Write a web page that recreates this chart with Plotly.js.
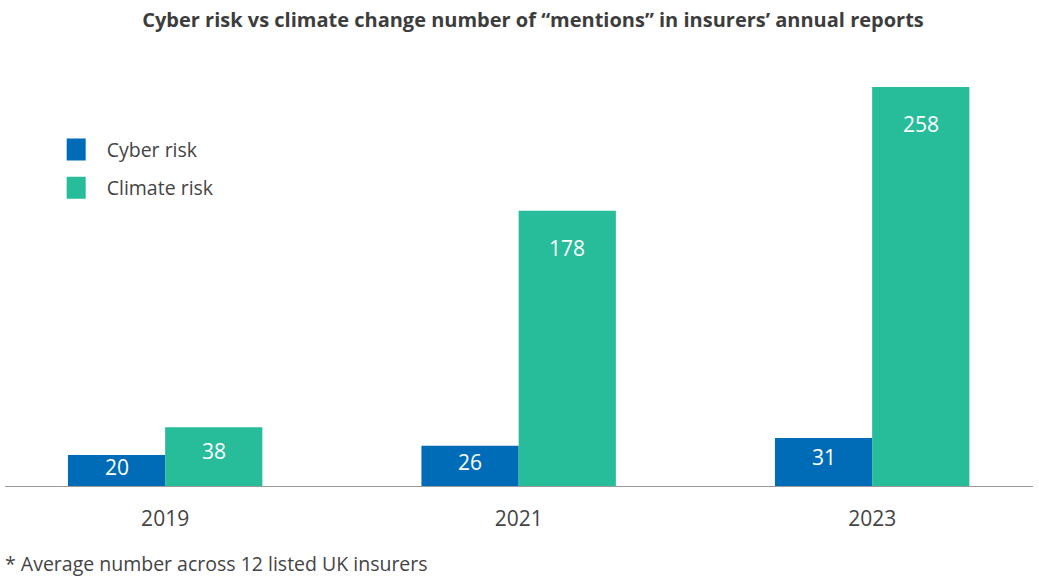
<!DOCTYPE html>
<html>
<head>
<meta charset="utf-8">
<script src="https://cdn.plot.ly/plotly-3.0.1.min.js"></script>
<style>
  html, body { margin: 0; padding: 0; background: #fff; }
  #chart { width: 1039px; height: 584px; }
</style>
</head>
<body>
<div id="chart"></div>
<script>
// Values
const years = ["2019", "2021", "2023"];
const cyberRisk = [20, 26, 31];
const climateRisk = [38, 178, 258];

const cyberColor = "#006cb7";
const climateColor = "#27bc9a";
const textColor = "#444444";
const font = "'Open Sans', sans-serif";

const bargap = 0.45;
// half a bar width, in category units, used to centre the value labels
const halfBar = (1 - bargap) / 4;

// Value labels sit near the top of each bar, a bit above the middle on short bars
function labelY(v) {
    return Math.max(v * 0.6, v - 24);
}

const annotations = [];
years.forEach((year, i) => {
    annotations.push({
        x: i - halfBar, y: labelY(cyberRisk[i]), xref: "x", yref: "y",
        text: String(cyberRisk[i]), showarrow: false, yanchor: "middle",
        font: { family: font, size: 21, color: "#ffffff" },
    });
    annotations.push({
        x: i + halfBar, y: labelY(climateRisk[i]), xref: "x", yref: "y",
        text: String(climateRisk[i]), showarrow: false, yanchor: "middle",
        font: { family: font, size: 21, color: "#ffffff" },
    });
});

// Footnote under the axis
annotations.push({
    x: -0.002, y: -0.181, xref: "paper", yref: "paper",
    xanchor: "left", yanchor: "middle", showarrow: false,
    text: "* Average number across 12 listed UK insurers",
    font: { family: font, size: 19.5, color: textColor },
});

const traces = [{
    type: "bar",
    name: "Cyber risk",
    legendgroup: "cyber",
    x: years,
    y: cyberRisk,
    marker: { color: cyberColor },
    hoverinfo: "none",
}, {
    type: "bar",
    name: "Climate risk",
    legendgroup: "climate",
    x: years,
    y: climateRisk,
    marker: { color: climateColor },
    hoverinfo: "none",
}];

const layout = {
    width: 1039,
    height: 584,
    paper_bgcolor: "#ffffff",
    plot_bgcolor: "#ffffff",
    font: { family: font, color: textColor },
    title: {
        text: "<b>Cyber risk vs climate change number of “mentions” in insurers’ annual reports</b>",
        x: 0.513, xanchor: "center",
        y: 0.966, yanchor: "middle",
        font: { family: font, size: 20, color: "#3d3d3d" },
    },
    margin: { l: 5, r: 6, t: 60, b: 98 },
    barmode: "group",
    bargap: bargap,
    bargroupgap: 0,
    showlegend: true,
    legend: {
        x: 0.06, xanchor: "left",
        y: 0.835, yanchor: "top",
        traceorder: "grouped",
        tracegroupgap: 10,
        font: { family: font, size: 19.5, color: textColor },
        bgcolor: "rgba(0,0,0,0)",
    },
    xaxis: {
        type: "category",
        range: [-0.453, 2.455],
        showline: true,
        linecolor: "#9a9a9a",
        linewidth: 1,
        ticks: "",
        ticklabelstandoff: 14,
        tickfont: { family: font, size: 21, color: textColor },
        showgrid: false,
        zeroline: false,
        fixedrange: true,
    },
    yaxis: {
        range: [0, 275.4],
        visible: false,
        showgrid: false,
        zeroline: false,
        fixedrange: true,
    },
    annotations: annotations,
};

Plotly.newPlot("chart", traces, layout, { displayModeBar: false, staticPlot: true }).then(() => {
    // Bigger square legend swatches, like the reference
    document.querySelectorAll("#chart .legend .legendpoints path").forEach(p => {
        p.setAttribute("d", "M19,11H-3V-11H19Z");
        p.removeAttribute("transform");
    });
});
</script>
</body>
</html>
